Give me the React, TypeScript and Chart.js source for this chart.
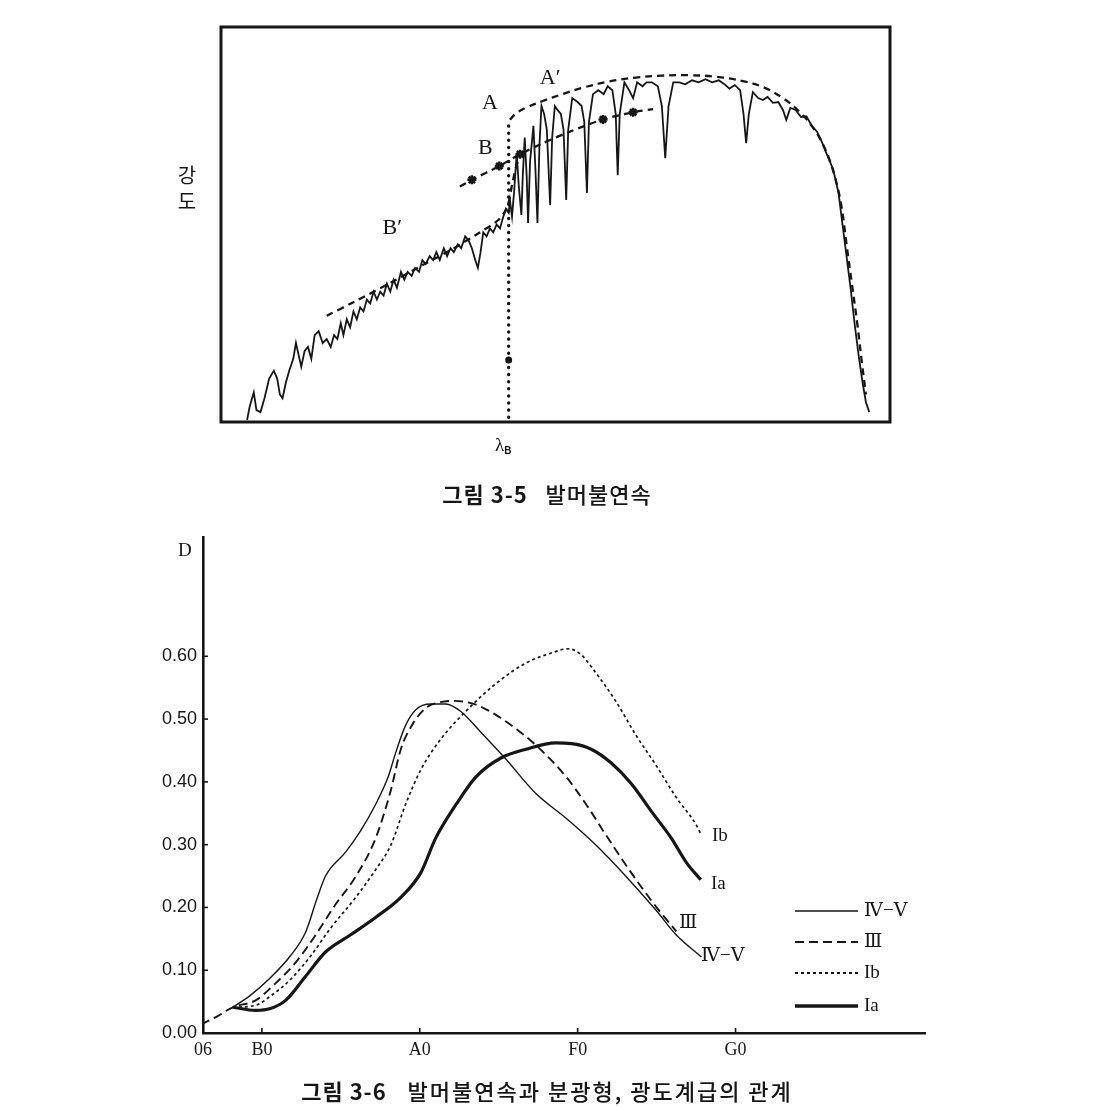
import React, { useEffect, useRef } from "react";
import { Chart, registerables } from "chart.js";
Chart.register(...registerables);

const INK = "#161616";

// ---------- Figure 3-5 (spectrum, arbitrary units 0..100) ----------
const spectrumTrace: [number, number][] = [
  [3.9,0.5],[4.3,4],[4.9,7.5],[5.3,3],[5.9,2.5],[6.5,6],[7.2,11],[7.9,13],[8.4,11],[8.8,7],[9.2,6],[9.7,10],
  [10.2,13],[10.8,16],[11.2,20],[11.6,17],[12.0,14],[12.5,18],[13.0,19],[13.5,16],[14.0,22],[14.6,23],[15.2,20],
  [15.8,21],[16.4,19],[16.9,22],[17.4,21],[17.9,25],[18.3,22],[18.8,26],[19.3,24],[19.8,28],[20.3,26],[20.8,29],
  [21.3,28],[21.8,31],[22.3,30],[22.8,33],[23.3,31],[23.8,33],[24.3,32],[24.8,35],[25.3,33],[25.8,36],[26.3,34],
  [26.9,38],[27.4,36],[27.9,38],[28.5,37],[29.0,39],[29.6,38],[30.1,41],[30.6,40],[31.2,42],[31.7,41],[32.2,43],
  [32.7,41],[33.3,44],[33.8,42],[34.3,44],[34.8,43],[35.4,45],[35.9,44],[36.5,47],[37.0,46],[37.5,44],[38.0,41],
  [38.4,39],[38.8,43],[39.2,48],[39.7,47],[40.2,49],[40.7,48],[41.2,50],[41.7,49],[42.2,52],[42.6,54],[43.0,53],
  [43.2,56],[43.5,52],[43.8,58],[44.2,68],[44.5,60],[44.9,52.4],[45.1,62],[45.4,72],[45.7,62],[45.9,50.4],[46.2,66],
  [46.7,75],[47.0,64],[47.3,50.4],[47.6,70],[47.9,80],[48.3,78],[48.7,74],[49.2,54.9],[49.5,72],[49.9,80],[50.3,79],
  [50.8,78],[51.2,74],[51.6,56.2],[51.9,74],[52.5,82],[53.3,81],[53.9,80],[54.3,76],[54.7,58],[55.0,76],[55.6,83],
  [56.4,84],[57.2,83],[57.8,85],[58.5,84],[59.0,78],[59.3,62.5],[59.6,78],[60.3,86],[61.0,84],[61.6,82],[62.2,86],
  [63.0,85],[63.6,86],[64.4,86],[65.3,85],[65.9,80],[66.4,66.8],[66.9,80],[67.6,86],[68.5,86],[69.4,85.5],[70.4,86.5],
  [71.4,86],[72.4,86.8],[73.4,86],[74.4,86.5],[75.2,85.6],[76.0,84.4],[76.8,85.3],[77.6,84],[78.1,78],[78.5,70.6],
  [78.9,78],[79.5,83.5],[80.3,82],[81.0,81.5],[81.7,82.3],[82.5,80.8],[83.3,81],[84.0,79],[84.5,76.5],[85.1,79.5],
  [85.9,79],[86.7,77.2],[87.5,77.4],[88.3,75],[89.1,73.5],[89.8,71],[90.5,68],[91.5,64],[92.3,58],[92.9,50],
  [93.5,42],[94.1,34],[94.7,25],[95.3,17],[95.9,10],[96.4,5],[96.9,2.5],
];
const envelopeATrace: [number, number][] = [
  [43.2,76.5],[44.0,78],[45.5,79.5],[48,81.2],[51,83],[54,84.6],[58,86.2],[62,87.2],[66,87.7],[70,87.8],[74,87.4],
  [78,86.3],[81,84.8],[84,82],[86.5,78.5],[88.5,74.5],[90.2,69.5],[91.6,63],[92.7,55],[93.5,45],[94.3,35],[95.1,25],
  [95.8,15],[96.4,7],
];
const lineBTrace: [number, number][] = [
  [35.7,59.6],[37.5,61.3],[41.6,64.8],[44.7,67.8],[48,70.5],[52,73.4],[57.1,76.6],[61.6,78.4],[64.6,79.2],
];
const lineBStars: [number, number][] = [[37.5,61.3],[41.6,64.8],[44.7,67.8],[57.1,76.6],[61.6,78.4]];
const lineB2Trace: [number, number][] = [
  [15.8,26.9],[20,30.5],[25.3,35.2],[30,39.6],[34,43.2],[38.5,47.8],[41.5,51.2],[42.8,54.5],[43.5,60],[44.1,64.5],[44.7,67.8],
];
const balmerEdge: [number, number][] = [[43.0,1.2],[43.0,76.5]];
const balmerDot: [number, number][] = [[43.0,15.7]];
const spectrumLabels: [string, number, number][] = [["A",40.2,80.8],["A′",49.2,87.1],["B",39.5,69.4],["B′",25.6,49.1]];

// ---------- Figure 3-6 (Balmer discontinuity D vs spectral type) ----------
const classTickValues = [6.27, 10, 20, 30, 40];
const classTickLabels = ["06", "B0", "A0", "F0", "G0"];
const dTickValues = [0, 0.1, 0.2, 0.3, 0.4, 0.5, 0.6];
const seriesNames = ["Ⅳ−Ⅴ", "Ⅲ", "Ib", "Ia"];
const curveIVV: [number, number][] = [
  [8.16,0.041],[9.27,0.060],[10.54,0.088],[11.81,0.123],[12.76,0.160],[13.5,0.215],[14.03,0.250],[15.3,0.288],
  [16.25,0.322],[17.2,0.364],[18.0,0.408],[18.48,0.447],[19.1,0.490],[19.75,0.515],[20.7,0.524],[21.65,0.524],
  [22.6,0.512],[23.87,0.479],[25.46,0.436],[27.37,0.381],[29.27,0.342],[31.17,0.299],[33.08,0.249],[34.98,0.195],
  [36.25,0.156],[37.84,0.121],
];
const curveIII: [number, number][] = [
  [6.16,0.014],[7.2,0.027],[8.16,0.041],[9.6,0.052],[10.86,0.079],[12.13,0.112],[13.4,0.156],[14.67,0.205],
  [15.94,0.249],[17.2,0.31],[18.16,0.386],[18.8,0.452],[19.5,0.49],[20.4,0.518],[21.3,0.527],[22.1,0.529],
  [23.56,0.523],[25.46,0.496],[27.37,0.458],[29.27,0.408],[30.54,0.364],[31.8,0.315],[33.4,0.255],[35.0,0.2],
  [36.25,0.162],
];
const curveIb: [number, number][] = [
  [8.16,0.041],[9.6,0.044],[10.5,0.058],[11.8,0.085],[13.1,0.123],[14.35,0.167],[15.94,0.216],[17.2,0.26],
  [18.16,0.299],[19.1,0.364],[20.06,0.419],[21.33,0.468],[22.9,0.512],[24.8,0.556],[26.7,0.589],[28.3,0.605],
  [29.4,0.612],[30.2,0.603],[31.17,0.573],[32.4,0.529],[33.7,0.474],[35.0,0.425],[36.25,0.375],[37.5,0.332],
  [37.84,0.315],
];
const curveIa: [number, number][] = [
  [8.16,0.041],[9.6,0.036],[10.54,0.039],[11.5,0.052],[12.76,0.09],[14.03,0.129],[15.6,0.156],[17.2,0.184],
  [18.8,0.216],[20.06,0.255],[21.0,0.31],[22.3,0.364],[23.56,0.408],[25.14,0.438],[26.73,0.452],[28.6,0.462],
  [29.6,0.461],[30.86,0.452],[32.13,0.43],[33.4,0.397],[34.67,0.353],[35.94,0.31],[36.9,0.271],[37.8,0.244],
];

const pts = (a: [number, number][]) => a.map(([x, y]) => ({ x, y }));

function SpectrumChart() {
  const ref = useRef<HTMLCanvasElement>(null);
  useEffect(() => {
    const framePlugin = {
      id: "frame35",
      afterDraw(chart: any) {
        const { ctx, chartArea: a, scales } = chart;
        ctx.save();
        ctx.strokeStyle = INK;
        ctx.lineWidth = 3;
        ctx.strokeRect(a.left, a.top, a.width, a.height);
        ctx.fillStyle = INK;
        ctx.font = '22px "Liberation Serif"';
        ctx.textAlign = "center";
        ctx.textBaseline = "middle";
        for (const [t, x, y] of spectrumLabels) {
          ctx.fillText(t, scales.x.getPixelForValue(x), scales.y.getPixelForValue(y));
        }
        ctx.restore();
      },
    };
    const dash = [7, 5];
    const chart = new Chart(ref.current as HTMLCanvasElement, {
      type: "line",
      data: {
        datasets: [
          { data: pts(spectrumTrace), borderColor: INK, borderWidth: 1.8, tension: 0, pointRadius: 0 },
          { data: pts(envelopeATrace), borderColor: INK, borderWidth: 2.3, borderDash: dash, tension: 0.4, pointRadius: 0 },
          { data: pts(lineBTrace), borderColor: INK, borderWidth: 2.3, borderDash: dash, tension: 0.3, pointRadius: 0 },
          { data: pts(lineB2Trace), borderColor: INK, borderWidth: 2.3, borderDash: dash, tension: 0.3, pointRadius: 0 },
          { data: pts(lineBStars), showLine: false, pointStyle: "star", pointRadius: 4.5, borderWidth: 2.5, borderColor: INK, backgroundColor: INK },
          { data: pts(balmerEdge), borderColor: INK, borderWidth: 3.4, borderDash: [0.1, 7], borderCapStyle: "round", pointRadius: 0 },
          { data: pts(balmerDot), showLine: false, pointRadius: 3.5, borderWidth: 0, backgroundColor: INK },
        ] as any,
      },
      options: {
        animation: false,
        responsive: false,
        maintainAspectRatio: false,
        layout: { padding: { left: 221, top: 27, right: 204, bottom: 98 } },
        scales: {
          x: { type: "linear", min: 0, max: 100, display: false },
          y: { type: "linear", min: 0, max: 100, display: false },
        },
        plugins: { legend: { display: false }, tooltip: { enabled: false } },
      },
      plugins: [framePlugin],
    });
    return () => chart.destroy();
  }, []);
  return <canvas ref={ref} width={1094} height={520} style={{ position: "absolute", left: 0, top: 0, width: 1094, height: 520 }} />;
}

function BalmerChart() {
  const ref = useRef<HTMLCanvasElement>(null);
  useEffect(() => {
    const styles = [
      { borderWidth: 1.4, borderDash: [] as number[] },
      { borderWidth: 1.9, borderDash: [9, 5] },
      { borderWidth: 1.7, borderDash: [3, 3] },
      { borderWidth: 3.2, borderDash: [] as number[] },
    ];
    const curves = [curveIVV, curveIII, curveIb, curveIa];
    const endLabels: [string, number, number][] = [
      ["Ib", 712, 316], ["Ia", 711, 364], ["Ⅲ", 679, 403], ["Ⅳ−Ⅴ", 701, 436],
    ];
    const legendRows = [391, 422, 453, 486];
    const annot = {
      id: "annot36",
      afterDraw(chart: any) {
        const { ctx, chartArea: a, scales } = chart;
        ctx.save();
        ctx.strokeStyle = INK;
        ctx.lineWidth = 1.6;
        ctx.setLineDash([]);
        for (const v of dTickValues) {
          const y = scales.y.getPixelForValue(v);
          ctx.beginPath(); ctx.moveTo(a.left, y); ctx.lineTo(a.left + 5, y); ctx.stroke();
        }
        classTickValues.forEach((v, i) => {
          if (i === 0) return;
          const x = scales.x.getPixelForValue(v);
          ctx.beginPath(); ctx.moveTo(x, a.bottom); ctx.lineTo(x, a.bottom - 5); ctx.stroke();
        });
        ctx.fillStyle = INK;
        ctx.textBaseline = "middle";
        ctx.textAlign = "left";
        ctx.font = '19px "Liberation Serif", "DejaVu Serif"';
        for (const [t, x, y] of endLabels) ctx.fillText(t, x, y);
        ctx.fillText("D", 178, 31);
        seriesNames.forEach((name, i) => {
          const y = legendRows[i];
          ctx.save();
          ctx.lineWidth = styles[i].borderWidth + 0.3;
          ctx.setLineDash(styles[i].borderDash);
          ctx.beginPath(); ctx.moveTo(795, y); ctx.lineTo(858, y); ctx.stroke();
          ctx.restore();
          ctx.fillText(name, 864, y);
        });
        ctx.restore();
      },
    };
    const chart = new Chart(ref.current as HTMLCanvasElement, {
      type: "line",
      data: {
        datasets: curves.map((c, i) => ({
          label: seriesNames[i],
          data: pts(c),
          borderColor: INK,
          borderWidth: styles[i].borderWidth,
          borderDash: styles[i].borderDash,
          cubicInterpolationMode: "monotone",
          pointRadius: 0,
        })) as any,
      },
      options: {
        animation: false,
        responsive: false,
        maintainAspectRatio: false,
        layout: { padding: { left: 0, top: 17, right: 169, bottom: 0 } },
        scales: {
          x: {
            type: "linear",
            min: 6.27,
            max: 52,
            afterBuildTicks: (s: any) => { s.ticks = classTickValues.map((v) => ({ value: v })); },
            afterFit: (s: any) => { s.height = 73; },
            ticks: {
              autoSkip: false,
              maxRotation: 0,
              padding: 6,
              color: INK,
              font: { family: "Liberation Serif", size: 18 },
              callback: (_v: any, i: number) => classTickLabels[i],
            },
            grid: { display: true, drawOnChartArea: false, drawTicks: false },
            border: { display: true, color: INK, width: 2.6 },
          },
          y: {
            type: "linear",
            min: 0,
            max: 0.79,
            afterBuildTicks: (s: any) => { s.ticks = dTickValues.map((v) => ({ value: v })); },
            afterFit: (s: any) => { s.width = 203; },
            ticks: {
              padding: 6,
              color: INK,
              font: { family: "Liberation Sans", size: 18 },
              callback: (v: any) => Number(v).toFixed(2),
            },
            grid: { display: true, drawOnChartArea: false, drawTicks: false },
            border: { display: true, color: INK, width: 2.6 },
          },
        },
        plugins: { legend: { display: false }, tooltip: { enabled: false } },
      },
      plugins: [annot],
    });
    return () => chart.destroy();
  }, []);
  return <canvas ref={ref} width={1094} height={586} style={{ position: "absolute", left: 0, top: 520, width: 1094, height: 586 }} />;
}

const kr = '"Noto Sans CJK KR", sans-serif';

export default function App() {
  return (
    <div style={{ position: "absolute", left: 0, top: 0, width: 1094, height: 1106, background: "#fff", overflow: "hidden" }}>
      <SpectrumChart />
      <BalmerChart />
      <div style={{ position: "absolute", left: 170, top: 162, width: 34, textAlign: "center", fontFamily: kr, fontSize: 20, lineHeight: "26px", color: INK }}>
        강<br />도
      </div>
      <div style={{ position: "absolute", left: 495, top: 434, fontFamily: '"Liberation Serif", serif', fontSize: 19, color: INK, whiteSpace: "nowrap" }}>
        λ<span style={{ fontSize: 10, fontWeight: 700, fontFamily: '"Liberation Sans", sans-serif', position: "relative", top: 3 }}>B</span>
      </div>
      <div style={{ position: "absolute", left: 0, width: 1094, top: 477, textAlign: "center", fontFamily: kr, fontSize: 22, color: INK, whiteSpace: "pre" }}>
        <span style={{ fontWeight: 700, letterSpacing: 1 }}>그림 3-5</span>
        <span style={{ fontWeight: 500, letterSpacing: 1 }}>{"   발머불연속"}</span>
      </div>
      <div style={{ position: "absolute", left: 0, width: 1094, top: 1074, textAlign: "center", fontFamily: kr, fontSize: 22, color: INK, whiteSpace: "pre" }}>
        <span style={{ fontWeight: 700, letterSpacing: 1 }}>그림 3-6</span>
        <span style={{ fontWeight: 500, letterSpacing: 2 }}>{"   발머불연속과 분광형, 광도계급의 관계"}</span>
      </div>
    </div>
  );
}
